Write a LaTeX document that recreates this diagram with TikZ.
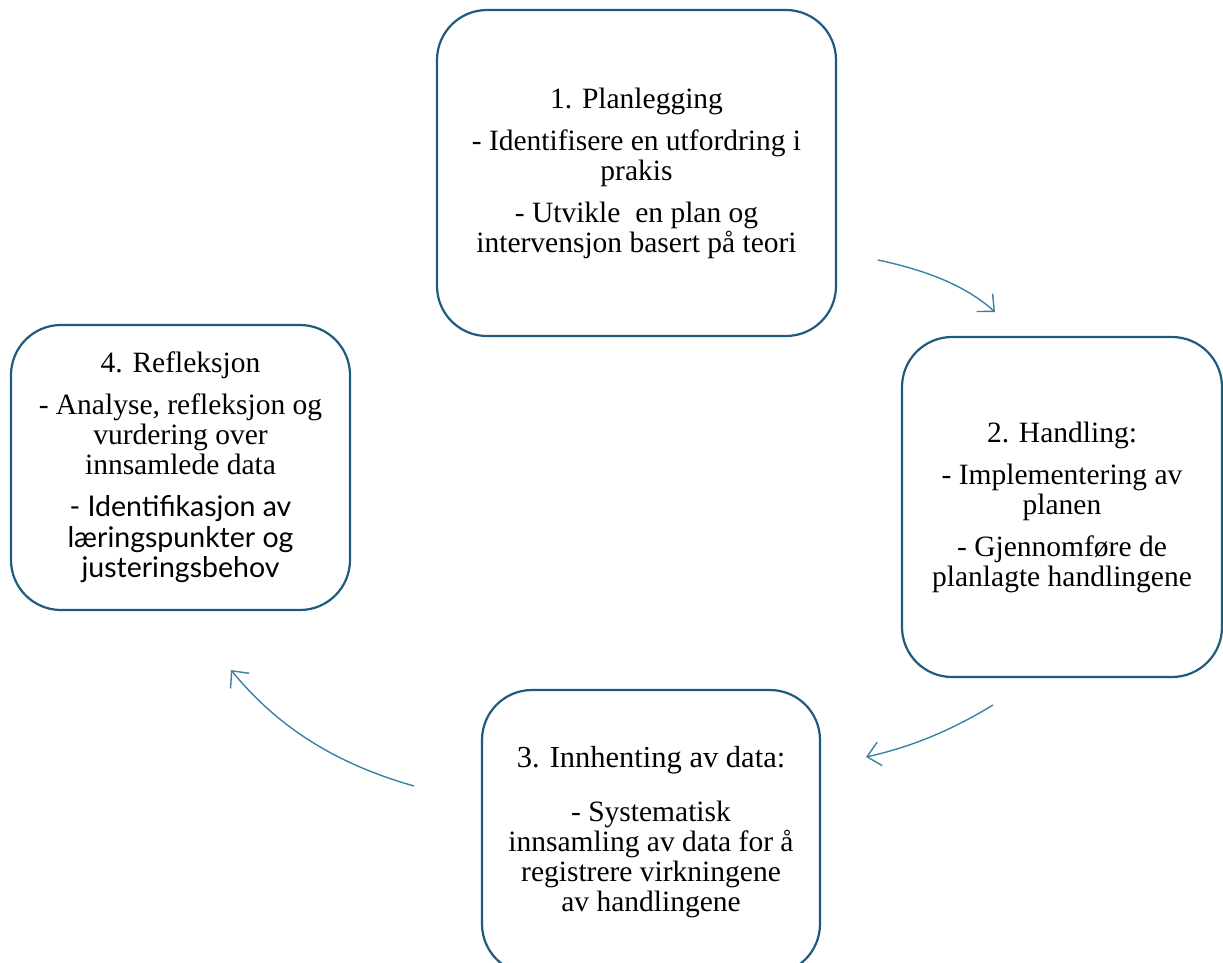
\documentclass[tikz,border=0pt]{standalone}
\usepackage{fontspec}
\setmainfont{Liberation Serif}
\newfontfamily\sansf{Lato}
\usetikzlibrary{arrows.meta}
\definecolor{boxblue}{RGB}{32,90,124}
\definecolor{arrowblue}{RGB}{62,128,162}
\newcommand{\sanstxt}[1]{{\sansf\fontsize{28.5}{30}\selectfont #1}}
\begin{document}
\begin{tikzpicture}[x=1pt,y=-1pt,
  stepbox/.style={draw=boxblue, line width=2.2pt, rounded corners=50pt, align=center,
    font=\fontsize{29.5}{30}\selectfont, inner sep=0pt},
  cyc/.style={draw=arrowblue, line width=1.4pt, -{Straight Barb[length=13pt,width=24pt,line width=1.4pt]}}]
\useasboundingbox (0,0) rectangle (1223,962);
\node[stepbox, minimum width=399pt, minimum height=326pt] (plan) at (636.5,173) {1. Planlegging\\[12pt]
- Identifisere en utfordring i\\ prakis\\[12pt]
- Utvikle~ en plan og\\ intervensjon basert på teori};
\node[stepbox, minimum width=320pt, minimum height=340pt] (act) at (1062,507) {2. Handling:\\[12pt]
- Implementering av\\ planen\\[12pt]
- Gjennomføre de\\ planlagte handlingene};
\node[stepbox, minimum width=338pt, minimum height=284pt] (data) at (651,832) {{\fontsize{30.5}{30}\selectfont 3. Innhenting av data:}\\[24pt]
- Systematisk\\ innsamling av data for å\\ registrere virkningene\\ av handlingene};
\node[stepbox, minimum width=339pt, minimum height=285pt] (refl) at (180.5,467.5) {4. Refleksjon\\[12pt]
- Analyse, refleksjon og\\ vurdering over\\ innsamlede data\\[12pt]
\sanstxt{- Identifikasjon av}\\[1pt] \sanstxt{læringspunkter og}\\ \sanstxt{justeringsbehov}};
\coordinate (a1s) at (878,260);
\coordinate (a1e) at (995,312);
\coordinate (a2s) at (993,705);
\coordinate (a2e) at (866,757);
\coordinate (a3s) at (414,786);
\coordinate (a3e) at (231,670);
\draw[cyc] (a1s) .. controls (925,270) and (965,285) .. (a1e);
\draw[cyc] (a2s) .. controls (960,725) and (920,745) .. (a2e);
\draw[cyc] (a3s) .. controls (340,765) and (280,730) .. (a3e);
\end{tikzpicture}
\end{document}
